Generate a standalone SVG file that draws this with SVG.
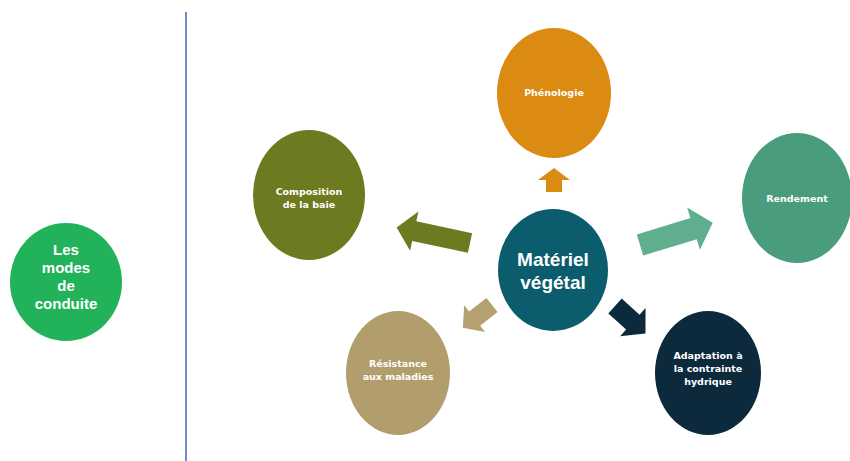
<svg xmlns="http://www.w3.org/2000/svg" width="850" height="461" viewBox="0 0 850 461">
<style>
.t{font-family:"DejaVu Sans","Liberation Sans",sans-serif;font-weight:bold;fill:#ffffff;text-anchor:middle;font-size:9.5px}
.big{font-family:"Liberation Sans",Arial,sans-serif;font-weight:bold;fill:#ffffff;text-anchor:middle}
</style>
<rect width="850" height="461" fill="#ffffff"/>
<line x1="186" y1="12" x2="186" y2="461" stroke="#7090c0" stroke-width="2"/>
<g id="modes">
<ellipse cx="66" cy="282" rx="56" ry="59" fill="#21b25a"/>
<text class="big" font-size="15" x="66" y="255">Les</text>
<text class="big" font-size="15" x="66" y="273">modes</text>
<text class="big" font-size="15" x="66" y="291">de</text>
<text class="big" font-size="15" x="66" y="309">conduite</text>
</g>
<g id="connectors">
<path d="M0,-10 L57,-10 L57,-20 L75,0 L57,20 L57,10 L0,10 Z" fill="#6e7a1f" transform="translate(470,243) rotate(192)"/>
<path d="M0,-11 L56,-11 L56,-22 L76,0 L56,22 L56,11 L0,11 Z" fill="#5fae8e" transform="translate(640,245) rotate(-17)"/>
<path d="M0,-8 L12,-8 L12,-16 L24,0 L12,16 L12,8 L0,8 Z" fill="#db8a12" transform="translate(554,192) rotate(-90)"/>
<path d="M0,-9 L22,-9 L22,-17 L37,0 L22,17 L22,9 L0,9 Z" fill="#b5a16f" transform="translate(492,305) rotate(142)"/>
<path d="M0,-10 L24,-10 L24,-19 L41,0 L24,19 L24,10 L0,10 Z" fill="#0d2a3c" transform="translate(615,306) rotate(42)"/>
</g>
<g id="phenologie">
<ellipse cx="554" cy="93" rx="57" ry="65" fill="#db8a12"/>
<text class="t" x="554" y="96">Phénologie</text>
</g>
<g id="composition">
<ellipse cx="309" cy="195" rx="56" ry="65" fill="#6e7a1f"/>
<text class="t" x="309" y="195">Composition</text>
<text class="t" x="309" y="208">de la baie</text>
</g>
<g id="rendement">
<ellipse cx="797" cy="198" rx="55" ry="65" fill="#4a9d7c"/>
<text class="t" x="797" y="202">Rendement</text>
</g>
<g id="materiel">
<ellipse cx="553" cy="270" rx="55" ry="61" fill="#0b5d6d"/>
<text class="big" font-size="19" x="553" y="266">Matériel</text>
<text class="big" font-size="19" x="553" y="289">végétal</text>
</g>
<g id="resistance">
<ellipse cx="398" cy="373" rx="52" ry="62" fill="#b29e6c"/>
<text class="t" x="398" y="367">Résistance</text>
<text class="t" x="398" y="380">aux maladies</text>
</g>
<g id="adaptation">
<ellipse cx="708" cy="373" rx="53" ry="62" fill="#0d2a3c"/>
<text class="t" x="708" y="359">Adaptation à</text>
<text class="t" x="708" y="372">la contrainte</text>
<text class="t" x="708" y="385">hydrique</text>
</g>
</svg>
